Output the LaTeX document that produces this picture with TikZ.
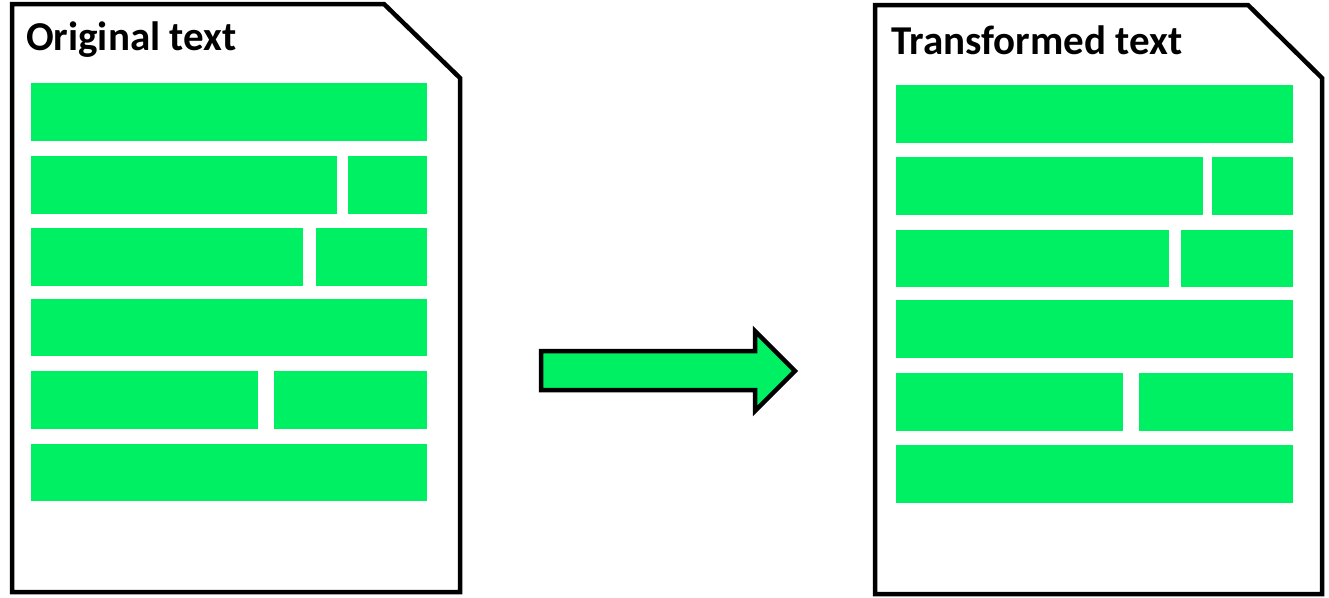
\documentclass[tikz,border=0pt]{standalone}
\usepackage{fontspec}
\setmainfont{Carlito}
\definecolor{bargreen}{HTML}{00F064}
\begin{document}
\begin{tikzpicture}[x=1pt, y=-1pt,
		page/.style={draw=black, line width=4.5pt, fill=white, line join=miter},
		bar/.style={fill=bargreen},
		title/.style={anchor=base west, inner sep=0pt, font=\fontsize{41}{48}\selectfont\bfseries}]
		\useasboundingbox (0,0) rectangle (1329,597);
		% left page
		\draw[page] (12,4) -- (384,4) -- (460,78) -- (460,592) -- (12,592) -- cycle;
		\node (origtitle) [title] at (26,50) {Original text};
		\fill[bar] (31,83) rectangle (427,141);
		\fill[bar] (31,156) rectangle (337,214);
		\fill[bar] (348,156) rectangle (427,214);
		\fill[bar] (31,228) rectangle (303,286);
		\fill[bar] (316,228) rectangle (427,286);
		\fill[bar] (31,299) rectangle (427,356);
		\fill[bar] (31,371) rectangle (258,429);
		\fill[bar] (274,371) rectangle (427,429);
		\fill[bar] (31,444) rectangle (427,501);
		% right page
		\draw[page] (875,5) -- (1248,5) -- (1322,78) -- (1322,594) -- (875,594) -- cycle;
		\node (transtitle) [title] at (891,54) {Transformed text};
		\fill[bar] (896,85) rectangle (1293,143);
		\fill[bar] (896,157) rectangle (1203,215);
		\fill[bar] (1212,157) rectangle (1293,215);
		\fill[bar] (896,230) rectangle (1169,287);
		\fill[bar] (1181,230) rectangle (1293,287);
		\fill[bar] (896,300) rectangle (1293,358);
		\fill[bar] (896,373) rectangle (1123,431);
		\fill[bar] (1139,373) rectangle (1293,431);
		\fill[bar] (896,445) rectangle (1293,503);
		% arrow
		\draw[line width=4.5pt, fill=bargreen, line join=miter]
			(541,351) -- (755,351) -- (755,331) -- (795,371) -- (755,411) -- (755,390) -- (541,390) -- cycle;
\end{tikzpicture}
\end{document}
